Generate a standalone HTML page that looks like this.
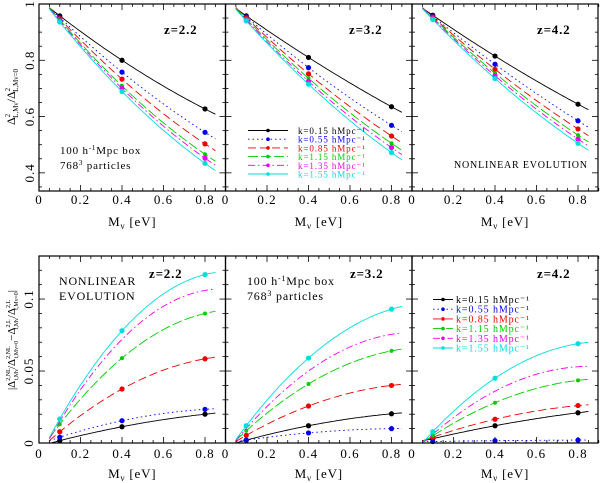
<!DOCTYPE html>
<html><head><meta charset="utf-8"><style>
html,body{margin:0;padding:0;background:#fff;}
svg{display:block;font-family:"Liberation Serif",serif;}
</style></head><body>
<svg id="fig" width="600" height="483" viewBox="0 0 600 483" xmlns="http://www.w3.org/2000/svg"></svg>
<script>
const masses = [0.1, 0.4, 0.8];
const kLabels = ["k=0.15 hMpc\u207B\u00B9","k=0.55 hMpc\u207B\u00B9","k=0.85 hMpc\u207B\u00B9","k=1.15 hMpc\u207B\u00B9","k=1.35 hMpc\u207B\u00B9","k=1.55 hMpc\u207B\u00B9"];
const redshifts = ["z=2.2","z=3.2","z=4.2"];
// top row: ratio, per redshift, per k: values at masses
const topZ22 = [[0.958,0.800,0.627],[0.952,0.758,0.544],[0.948,0.733,0.503],[0.944,0.709,0.466],[0.940,0.700,0.452],[0.936,0.689,0.434]];
const topZ32 = [[0.958,0.810,0.635],[0.955,0.774,0.569],[0.951,0.752,0.531],[0.947,0.736,0.505],[0.943,0.725,0.490],[0.940,0.715,0.472]];
const topZ42 = [[0.960,0.815,0.644],[0.957,0.786,0.585],[0.954,0.768,0.556],[0.951,0.754,0.534],[0.948,0.745,0.520],[0.945,0.735,0.505]];
// bottom row: difference
const botZ22 = [[0.0016,0.0113,0.020],[0.004,0.0155,0.0234],[0.0078,0.0375,0.0585],[0.013,0.059,0.090],[0.015,0.072,0.106],[0.0167,0.078,0.117]];
const botZ32 = [[0.002,0.012,0.0203],[0.002,0.007,0.010],[0.0053,0.0257,0.040],[0.0085,0.041,0.064],[0.010,0.050,0.0755],[0.012,0.059,0.093]];
const botZ42 = [[0.003,0.012,0.021],[0.001,0.0016,0.002],[0.004,0.0165,0.026],[0.005,0.028,0.0435],[0.006,0.036,0.053],[0.0078,0.045,0.069]];
const xTicks = [0,0.2,0.4,0.6,0.8];
const topYTicks = [0.4,0.6,0.8,1];
const botYTicks = [0,0.05,0.1];

const colors=["#000","#0000ee","#ee0000","#00cc00","#ee00ee","#00dddd"];
const dashes=["", "1.5,3", "8,4", "10,3", "7,3,1.5,3", ""];
const NS="http://www.w3.org/2000/svg";
const svg=document.getElementById('fig');
function el(tag,attrs,parent){const e=document.createElementNS(NS,tag);for(const k in attrs)e.setAttribute(k,attrs[k]);(parent||svg).appendChild(e);return e;}
const panelsX=[[39,225.5],[225.5,412],[412,598]];
const rows=[{top:4,bot:191,ymin:0.3355,ymax:1,ticks:topYTicks,major:0.2,minor:0.05,data:[topZ22,topZ32,topZ42],fmt:v=>v===1?"1":v.toFixed(1)},
            {top:256,bot:443,ymin:0,ymax:0.1299,ticks:botYTicks,major:0.05,minor:0.01,data:[botZ22,botZ32,botZ42],fmt:v=>v===0?"0":String(v)}];
function quad(xs,ys,x){let s=0;for(let i=0;i<3;i++){let t=ys[i];for(let j=0;j<3;j++)if(j!==i)t*=(x-xs[j])/(xs[i]-xs[j]);s+=t;}return s;}
rows.forEach((row,ri)=>{
  panelsX.forEach((px,pi)=>{
    const g=el('g',{});
    
    
    const sx=v=>px[0]+v*207.5;
    const sy=v=>row.bot-(v-row.ymin)/(row.ymax-row.ymin)*(row.bot-row.top);
    const clip='c'+ri+pi;
    const cp=el('clipPath',{id:clip},g);el('rect',{x:px[0],y:row.top,width:px[1]-px[0],height:row.bot-row.top},cp);
    for(let v=0;v<=0.9001;v+=0.05){const big=Math.abs(v/0.2-Math.round(v/0.2))<1e-6;const L=big?6:3;const x=sx(v);
      el('line',{x1:x,x2:x,y1:row.bot,y2:row.bot-L,stroke:'#000','stroke-width':0.8},g);
      el('line',{x1:x,x2:x,y1:row.top,y2:row.top+L,stroke:'#000','stroke-width':0.8},g);}
    for(let v=Math.ceil(row.ymin/row.minor)*row.minor;v<=row.ymax+1e-9;v+=row.minor){const big=Math.abs(v/row.major-Math.round(v/row.major))<1e-6;const L=big?6:3;const y=sy(v);
      el('line',{x1:px[0],x2:px[0]+L,y1:y,y2:y,stroke:'#000','stroke-width':0.8},g);
      el('line',{x1:px[1],x2:px[1]-L,y1:y,y2:y,stroke:'#000','stroke-width':0.8},g);}
    xTicks.forEach(t=>{const tx=el('text',{x:sx(t),y:ri?458:204,'font-size':13,'letter-spacing':1,'text-anchor':'middle',fill:'#000'},g);tx.textContent=t===0?"0":t.toFixed(1);
      
      });
    const xl=el('text',{x:(px[0]+px[1])/2,y:ri?478:226,'font-size':13,'letter-spacing':0.8,'text-anchor':'middle'},g);
    xl.innerHTML='M<tspan font-size="9" dy="3">\u03BD</tspan><tspan dy="-3"> [eV]</tspan>';
    
    
    if(pi===0){row.ticks.forEach(t=>{const y=sy(t);const tx=el('text',{x:0,y:0,'font-size':13,'letter-spacing':1,'text-anchor':'middle',transform:`translate(${ri?33:34},${y}) rotate(-90)`},g);tx.textContent=row.fmt(t);
      
      });}
    const data=row.data[pi];
    data.forEach((vals,k)=>{
      let d='';for(let x=0.05;x<=0.8501;x+=0.01){d+=(d?'L':'M')+sx(x).toFixed(1)+','+sy(Math.max(quad(masses,vals,x),ri?0:-1)).toFixed(1);}
      const p=el('path',{d:d,fill:'none',stroke:colors[k],'stroke-width':0.9,'stroke-dasharray':dashes[k],'clip-path':`url(#${clip})`},g);
      
      
      if(ri===1&&k===4)return;
      vals.forEach((v,i)=>{const c=el('circle',{cx:sx(masses[i]),cy:sy(v),r:k===3?2:2.6,fill:colors[k]},g);
        
        });
    });
    el('rect',{x:px[0],y:row.top,width:px[1]-px[0],height:row.bot-row.top,fill:'none',stroke:'#000','stroke-width':1.2},g);
    const zt=el('text',{x:ri?(pi===0?149:pi===1?350:537):(pi===0?164:pi===1?349:537),y:ri?278:34,'font-size':13,'font-weight':'bold','letter-spacing':0.8},g);zt.textContent=redshifts[pi];
    
    
  });
});
function txt(x,y,s,size,name){const t=el('text',{x:x,y:y,'font-size':size,'letter-spacing':0.8});t.innerHTML=s;return t;}
txt(60,154,'100 h<tspan font-size="7" dy="-4">-1</tspan><tspan dy="4">Mpc box</tspan>',11,'box-note');
txt(60,169,'768<tspan font-size="7" dy="-4">3</tspan><tspan dy="4"> particles</tspan>',11,'particles-note');
txt(454,168,'NONLINEAR EVOLUTION',10,'nonlinear-note');
txt(59,285,'NONLINEAR',12,'nonlinear-note');
txt(59,300,'EVOLUTION',12,'nonlinear-note');
txt(247,285,'100 h<tspan font-size="8" dy="-4">-1</tspan><tspan dy="4">Mpc box</tspan>',12,'box-note');
txt(247,300,'768<tspan font-size="8" dy="-4">3</tspan><tspan dy="4"> particles</tspan>',12,'particles-note');
const yt1=el('text',{'font-size':12,'text-anchor':'middle',transform:'translate(15,97) rotate(-90)'});
yt1.innerHTML='\u0394<tspan font-size="7" dy="-5">2</tspan><tspan font-size="7" dy="8" dx="-4">L,M\u03BD</tspan><tspan dy="-3">/\u0394</tspan><tspan font-size="7" dy="-5">2</tspan><tspan font-size="7" dy="8" dx="-4">L,M\u03BD=0</tspan>';


const yt2=el('text',{'font-size':11,'text-anchor':'middle',transform:'translate(15,340) rotate(-90)'});
yt2.innerHTML='|\u0394<tspan font-size="6" dy="-5">2,NL</tspan><tspan font-size="6" dy="8" dx="-12">t,M\u03BD</tspan><tspan dy="-3">/\u0394</tspan><tspan font-size="6" dy="-5">2,NL</tspan><tspan font-size="6" dy="8" dx="-12">t,M\u03BD=0</tspan><tspan dy="-3">\u2212\u0394</tspan><tspan font-size="6" dy="-5">2,L</tspan><tspan font-size="6" dy="8" dx="-10">t,M\u03BD</tspan><tspan dy="-3">/\u0394</tspan><tspan font-size="6" dy="-5">2,L</tspan><tspan font-size="6" dy="8" dx="-10">t,M\u03BD=0</tspan><tspan dy="-3">|</tspan>';


function legend(x0,x1,tx,y0,dy,size,name){
  const g=el('g',{});
  kLabels.forEach((lab,k)=>{const y=y0+k*dy;
    el('line',{x1:x0,x2:x1,y1:y,y2:y,stroke:colors[k],'stroke-width':0.9,'stroke-dasharray':dashes[k]},g);
    el('circle',{cx:(x0+x1)/2,cy:y,r:1.8,fill:colors[k]},g);
    const t=el('text',{x:tx,y:y+3.5,'font-size':size,'letter-spacing':0.9,fill:colors[k]},g);t.textContent=lab;
    
    });
}
legend(248,288,298,130.5,8.7,9,'legend-top');
legend(433,453,456,299.5,9.7,10,'legend-bottom');
</script>
</body></html>
